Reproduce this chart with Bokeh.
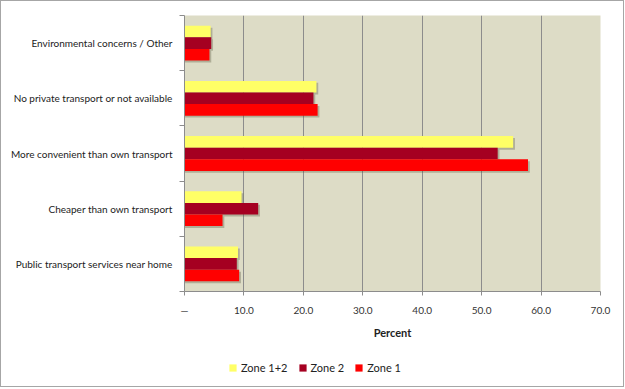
from bokeh.plotting import figure
from bokeh.layouts import column
from bokeh.models import (ColumnDataSource, FixedTicker, Legend, LegendItem,
                          NumeralTickFormatter, Range1d)
from bokeh.transform import dodge
from bokeh.embed import file_html
from bokeh.resources import INLINE

# bottom to top
categories = ["Public transport services near home",
              "Cheaper than own transport",
              "More convenient than own transport",
              "No private transport or not available",
              "Environmental concerns / Other"]
zone12 = [9.0, 9.6, 55.3, 22.2, 4.4]
zone2 = [8.8, 12.4, 52.7, 21.7, 4.5]
zone1 = [9.2, 6.4, 57.8, 22.4, 4.2]
x_ticks = [0, 10, 20, 30, 40, 50, 60, 70]
series_labels = ["Zone 1+2", "Zone 2", "Zone 1"]
series_colors = ["#FFFF66", "#A50021", "#FF0000"]

centers = [i + 0.5 for i in range(len(categories))]
src = ColumnDataSource(dict(y=centers, z12=zone12, z2=zone2, z1=zone1))

FONT = "Lato"
W = 622
p = figure(width=W, height=340, output_backend="svg", toolbar_location=None,
           x_range=Range1d(0, 70), y_range=Range1d(0, len(categories)))
p.min_border_left = 183
p.min_border_right = 23
p.min_border_top = 14
p.min_border_bottom = 45
p.background_fill_color = "#DDDCC6"
p.border_fill_color = "white"
p.outline_line_color = None

bh = 0.21
sh_dx, sh_dy = 0.3, -0.035
cols = ["z12", "z2", "z1"]
offs = [bh, 0, -bh]
# soft drop shadows
for c, o in zip(cols, offs):
    p.hbar(y=dodge("y", o + sh_dy, range=p.y_range),
           right=dodge(c, sh_dx, range=p.x_range), left=0, height=bh,
           source=src, fill_color="#5a5a40", fill_alpha=0.35, line_color=None)
for c, o, colr in zip(cols, offs, series_colors):
    p.hbar(y=dodge("y", o, range=p.y_range), right=c, left=0, height=bh,
           source=src, fill_color=colr, line_color=None)

# x axis
p.xaxis.ticker = FixedTicker(ticks=x_ticks)
p.xaxis.formatter = NumeralTickFormatter(format="0.0")
p.xaxis.major_label_overrides = {0: "\u2014"}
p.xaxis.axis_label = "Percent"
p.xaxis.axis_label_text_font = FONT
p.xaxis.axis_label_text_font_style = "bold"
p.xaxis.axis_label_text_font_size = "11px"
p.xaxis.axis_label_text_color = "#222222"
p.xaxis.major_label_text_font = FONT
p.xaxis.major_label_text_font_size = "10px"
p.xaxis.major_label_text_color = "#333333"
p.xaxis.axis_line_color = "#8c8c8c"
p.xaxis.major_tick_line_color = "#8c8c8c"
p.xaxis.major_tick_in = 0
p.xaxis.major_tick_out = 4
p.xaxis.minor_tick_line_color = None
p.xaxis.major_label_standoff = 8
p.xaxis.axis_label_standoff = 7

# y axis: labels at centers, tick marks at boundaries
p.yaxis.ticker = FixedTicker(ticks=centers,
                             minor_ticks=list(range(len(categories) + 1)))
p.yaxis.major_label_overrides = {c: lab for c, lab in zip(centers, categories)}
p.yaxis.major_tick_line_color = None
p.yaxis.minor_tick_line_color = "#8c8c8c"
p.yaxis.minor_tick_in = 0
p.yaxis.minor_tick_out = 5
p.yaxis.axis_line_color = "#8c8c8c"
p.yaxis.major_label_text_font = FONT
p.yaxis.major_label_text_font_size = "10px"
p.yaxis.major_label_text_color = "#222222"
p.yaxis.major_label_standoff = 6

p.xgrid.ticker = FixedTicker(ticks=x_ticks[1:])
p.xgrid.grid_line_color = "#8c8c8c"
p.ygrid.grid_line_color = None

# legend strip below the chart
pl = figure(width=W, height=45, output_backend="svg", toolbar_location=None,
            x_range=Range1d(0, 1), y_range=Range1d(0, 1), min_border=0)
pl.axis.visible = False
pl.grid.visible = False
pl.outline_line_color = None
pl.background_fill_color = "white"
pl.border_fill_color = "white"
items = []
for lab, colr in zip(series_labels, series_colors):
    r = pl.quad(left=[5], right=[6], top=[5], bottom=[6], fill_color=colr,
                line_color=None)
    items.append(LegendItem(label=lab, renderers=[r]))
legend = Legend(items=items, orientation="horizontal", location=(44, 12))
legend.label_text_font = FONT
legend.label_text_font_size = "11px"
legend.label_text_color = "#222222"
legend.glyph_width = 9
legend.glyph_height = 9
legend.spacing = 10
legend.label_standoff = 4
legend.border_line_color = None
legend.background_fill_alpha = 0
legend.padding = 4
legend.margin = 0
pl.add_layout(legend, "center")

layout = column(p, pl, spacing=0,
                styles={"border": "1px solid #a6a6a6", "background": "white"})
open("out.html", "w").write(file_html(layout, INLINE))
